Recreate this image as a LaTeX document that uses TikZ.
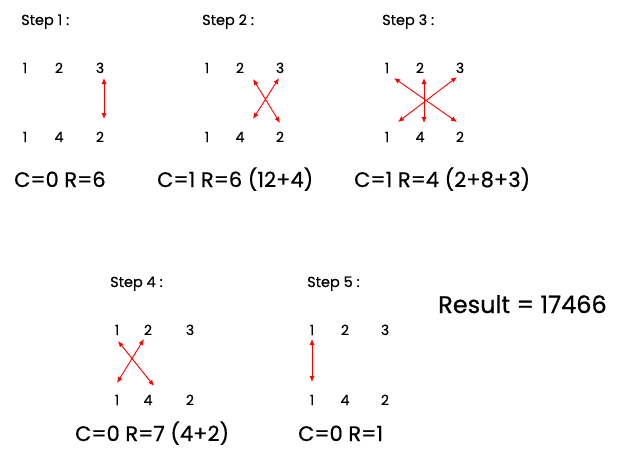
\documentclass[tikz,border=0pt]{standalone}
\usepackage{fontspec}
\setmainfont{Poppins}[FakeBold=0.6]
\usetikzlibrary{arrows.meta}
\begin{document}
\begin{tikzpicture}[x=1pt,y=-1pt,
  lbl/.style={anchor=base west,inner sep=0pt,font=\fontsize{14.5}{16}\selectfont},
  num/.style={anchor=base,inner sep=0pt,font=\fontsize{14}{16}\selectfont},
  res/.style={anchor=base west,inner sep=0pt,font=\fontsize{21}{24}\selectfont},
  big/.style={anchor=base west,inner sep=0pt,font=\fontsize{24}{28}\selectfont},
  swap/.style={red,line width=0.9pt,{Latex[length=6pt,width=5pt]}-{Latex[length=6pt,width=5pt]}}]
\useasboundingbox[fill=white] (0,0) rectangle (618,450);
% Step 1
\node[lbl] (s1) at (21,25) {Step 1 :};
\node[num] (a1) at (25,73) {1};
\node[num] (a2) at (59,73) {2};
\node[num] (a3) at (100,73) {3};
\node[num] (a4) at (25,142) {1};
\node[num] (a5) at (59,142) {4};
\node[num] (a6) at (100,142) {2};
\node[res] (r1) at (14,187) {C=0 R=6};
\coordinate (a1p) at (104,78);
\coordinate (a1q) at (104,119);
\draw[swap] (a1p) -- (a1q);
% Step 2
\node[lbl] (s2) at (202,25) {Step 2 :};
\node[num] (b1) at (207,73) {1};
\node[num] (b2) at (240,73) {2};
\node[num] (b3) at (280,73) {3};
\node[num] (b4) at (207,142) {1};
\node[num] (b5) at (240,142) {4};
\node[num] (b6) at (280,142) {2};
\node[res] (r2) at (157,187) {C=1 R=6 (12+4)};
\coordinate (b1p) at (253,79);
\coordinate (b1q) at (280,123);
\coordinate (b2p) at (279,78);
\coordinate (b2q) at (253,119);
\draw[swap] (b1p) -- (b1q);
\draw[swap] (b2p) -- (b2q);
% Step 3
\node[lbl] (s3) at (382,25) {Step 3 :};
\node[num] (c1) at (387,73) {1};
\node[num] (c2) at (420,73) {2};
\node[num] (c3) at (460,73) {3};
\node[num] (c4) at (387,142) {1};
\node[num] (c5) at (420,142) {4};
\node[num] (c6) at (460,142) {2};
\node[res] (r3) at (354,187) {C=1 R=4 (2+8+3)};
\coordinate (c1p) at (394,78);
\coordinate (c1q) at (457,122);
\coordinate (c2p) at (424,78);
\coordinate (c2q) at (424,123);
\coordinate (c3p) at (457,77);
\coordinate (c3q) at (398,122);
\draw[swap] (c1p) -- (c1q);
\draw[swap] (c2p) -- (c2q);
\draw[swap] (c3p) -- (c3q);
% Step 4
\node[lbl] (s4) at (110,287) {Step 4 :};
\node[num] (d1) at (117,335) {1};
\node[num] (d2) at (148,335) {2};
\node[num] (d3) at (190,335) {3};
\node[num] (d4) at (117,405) {1};
\node[num] (d5) at (148,405) {4};
\node[num] (d6) at (190,405) {2};
\node[res] (r4) at (75,441) {C=0 R=7 (4+2)};
\coordinate (d1p) at (118,341);
\coordinate (d1q) at (154,386);
\coordinate (d2p) at (144,339);
\coordinate (d2q) at (117,383);
\draw[swap] (d1p) -- (d1q);
\draw[swap] (d2p) -- (d2q);
% Step 5
\node[lbl] (s5) at (307,287) {Step 5 :};
\node[num] (e1) at (312,335) {1};
\node[num] (e2) at (345,335) {2};
\node[num] (e3) at (385,335) {3};
\node[num] (e4) at (312,405) {1};
\node[num] (e5) at (345,405) {4};
\node[num] (e6) at (385,405) {2};
\node[res] (r5) at (298,441) {C=0 R=1};
\coordinate (e1p) at (312,339);
\coordinate (e1q) at (312,382);
\draw[swap] (e1p) -- (e1q);
% Result
\node[big] (res) at (438,313) {Result = 17466};
\end{tikzpicture}
\end{document}
